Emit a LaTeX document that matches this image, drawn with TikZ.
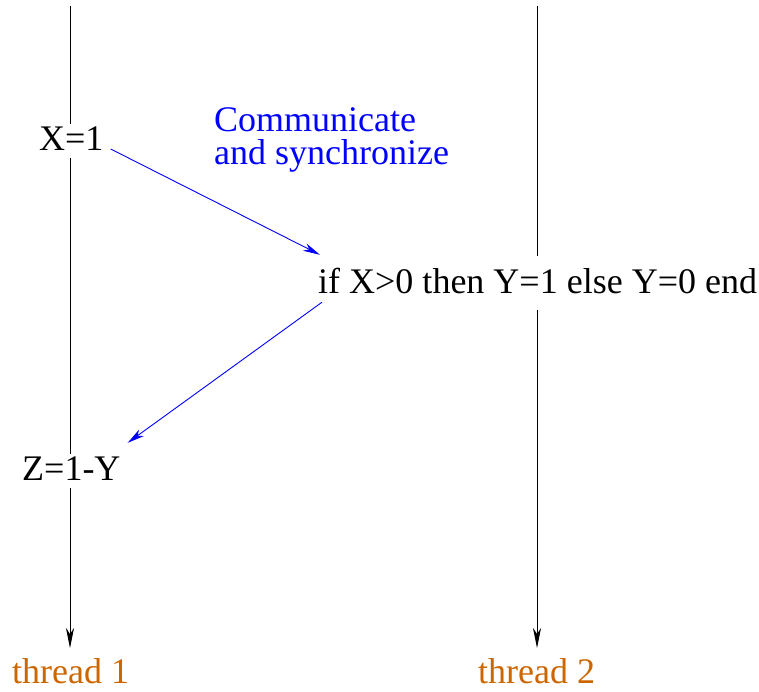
\documentclass[tikz,border=0pt]{standalone}
\usepackage{fontspec}
\setmainfont{Liberation Serif}
\usetikzlibrary{arrows.meta}
\definecolor{thrcol}{RGB}{204,102,0}
\definecolor{msgblue}{RGB}{0,0,255}
\begin{document}
\begin{tikzpicture}[x=1pt,y=-1pt,
  stmt/.style={inner sep=0pt,font=\fontsize{36}{33}\selectfont,text height=26pt,text depth=8pt},
  ifstmt/.style={inner sep=0pt,font=\fontsize{36}{33}\selectfont,text height=37pt,text depth=17pt},
  thrlabel/.style={inner sep=0pt,text=thrcol,font=\fontsize{36}{33}\selectfont},
  thread/.style={line width=0.9pt,draw=black},
  threadarrow/.style={thread,-{Stealth[length=20pt,width=8pt,inset=6pt]}},
  msg/.style={line width=0.9pt,draw=msgblue,-{Stealth[length=17pt,width=8pt,inset=5pt]}}]
\useasboundingbox (0,0) rectangle (759,691);
% statements
\node[stmt,anchor=base west] (x1) at (39,150) {X=1};
\node[stmt,anchor=base west] (z) at (22,480) {Z=1-Y};
\node[ifstmt,anchor=base west] (ifn) at (318,293) {if X>0 then Y=1 else Y=0 end};
\node[inner sep=0pt,anchor=north west,align=left,text=msgblue,font=\fontsize{36}{33}\selectfont] (comm) at (214,107) {Communicate\\and synchronize};
% thread labels
\node[thrlabel,anchor=base west] (lab1) at (12,683) {thread 1};
\node[thrlabel,anchor=base west] (lab2) at (478,683) {thread 2};
% thread coordinates
\coordinate (t1top) at (70,6);
\coordinate (t1end) at (70,648);
\coordinate (t2top) at (537,6);
\coordinate (t2end) at (537,648);
% thread 1
\draw[thread] (t1top) -- (x1.north -| t1top);
\draw[thread] (x1.south -| t1top) -- (z.north -| t1top);
\draw[threadarrow] (z.south -| t1top) -- (t1end);
% thread 2
\draw[thread] (t2top) -- (ifn.north -| t2top);
\draw[threadarrow] (ifn.south -| t2top) -- (t2end);
% messages
\draw[msg] ([xshift=7pt,yshift=1pt]x1.base east) -- ([xshift=2pt,yshift=1pt]ifn.north west);
\draw[msg] ([xshift=4pt,yshift=8pt]ifn.south west) -- ([xshift=7pt,yshift=11pt]z.north east);
\end{tikzpicture}
\end{document}
